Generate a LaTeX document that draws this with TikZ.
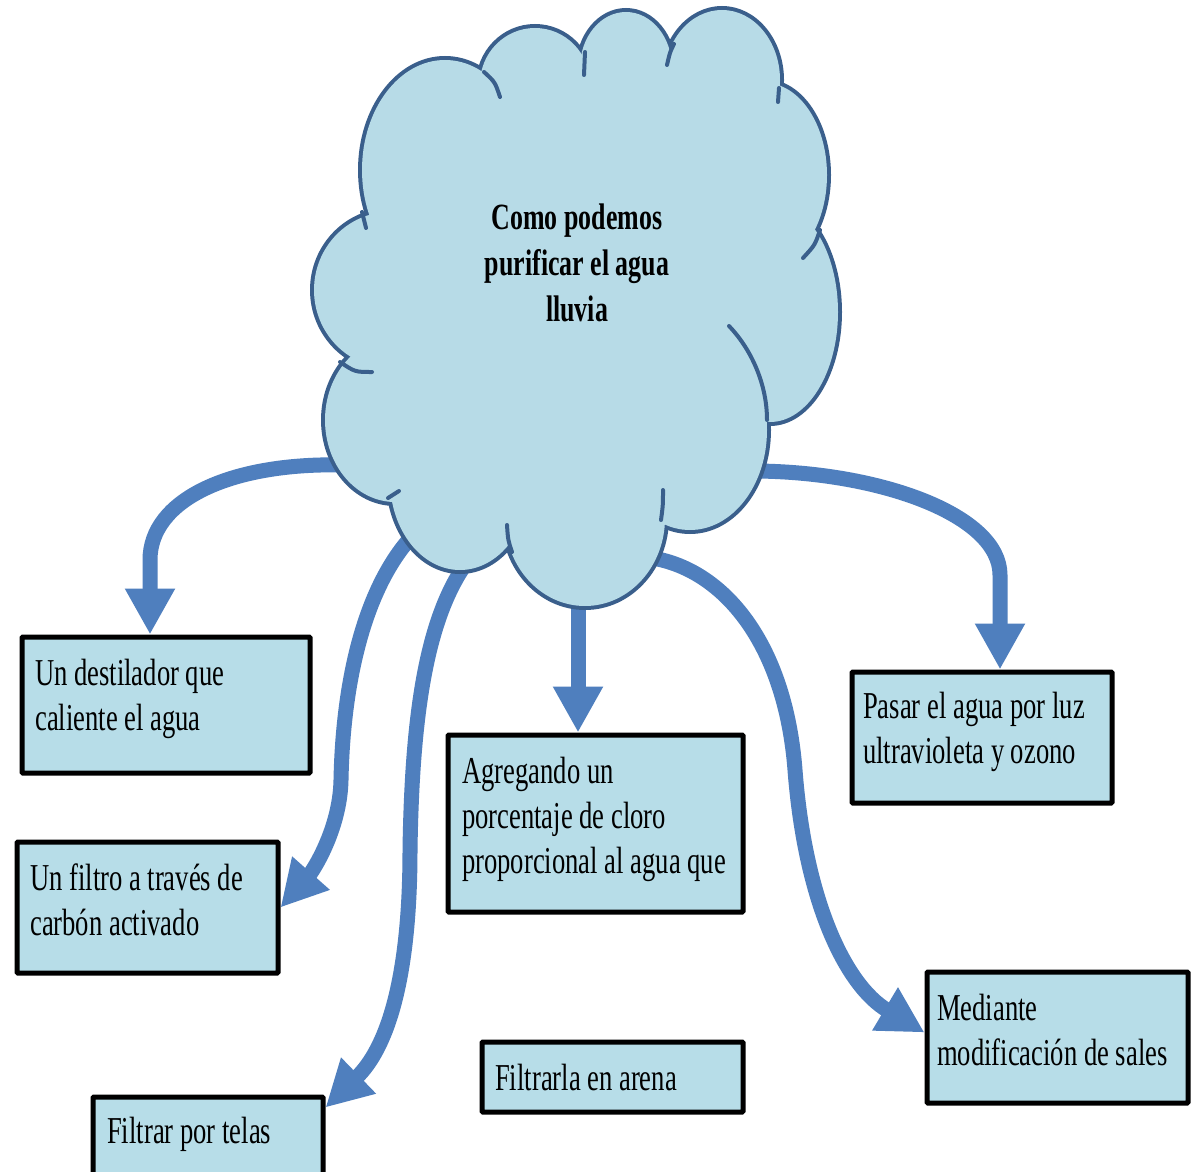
\documentclass[tikz,border=0pt]{standalone}
\usepackage{fontspec}
\newfontfamily\boxfont[FakeStretch=0.7]{Liberation Serif}
\usetikzlibrary{arrows.meta}
\definecolor{boxfill}{HTML}{B7DDE8}
\definecolor{cloudfill}{HTML}{B7DBE7}
\definecolor{cloudline}{HTML}{3A5F8C}
\definecolor{arrowblue}{HTML}{4F7FBE}
\tikzset{
  box/.style={draw=black, line width=5pt, fill=boxfill, anchor=north west, inner sep=0pt, rounded corners=1pt},
  txt/.style={anchor=north west, inner sep=0pt, align=left, text=black, font=\boxfont\fontsize{38}{45}\selectfont},
  titletxt/.style={anchor=north, inner sep=0pt, align=center, text=black, font=\boxfont\bfseries\fontsize{37}{46}\selectfont},
  flow/.style={draw=arrowblue, line width=15pt, -{Triangle[width=47pt,length=46pt]}},
  notchline/.style={draw=cloudline, line width=4pt, line cap=round},
  lobe/.style={draw=cloudline, line width=8pt},
  lobefill/.style={fill=cloudfill}
}
\newcommand{\lobes}[1]{%
  \path[#1] (445,170) ellipse [x radius=83pt, y radius=110pt];
  \path[#1] (535,84) ellipse [x radius=55pt, y radius=56pt];
  \path[#1] (626,68) ellipse [x radius=46pt, y radius=56pt];
  \path[#1] (722,80) ellipse [x radius=58pt, y radius=70pt];
  \path[#1] (765,175) ellipse [x radius=62pt, y radius=92pt];
  \path[#1] (770,312) ellipse [x radius=68pt, y radius=110pt];
  \path[#1] (690,430) ellipse [x radius=77pt, y radius=100pt];
  \path[#1] (585,518) ellipse [x radius=80pt, y radius=88pt];
  \path[#1] (460,480) ellipse [x radius=70pt, y radius=90pt];
  \path[#1] (395,420) ellipse [x radius=70pt, y radius=82pt];
  \path[#1] (390,290) ellipse [x radius=76pt, y radius=78pt];
}
\begin{document}
\begin{tikzpicture}[x=1pt, y=-1pt]
\fill[white] (0,0) rectangle (1194,1172);
\useasboundingbox (0,0) rectangle (1194,1172);

% boxes
\node[box, minimum width=288pt, minimum height=136pt] (dest) at (19.5,634.5) {};
\node[box, minimum width=261pt, minimum height=131pt] (carb) at (14.5,839.5) {};
\node[box, minimum width=230pt, minimum height=98pt] (telas) at (90.5,1094.5) {};
\node[box, minimum width=295pt, minimum height=177pt] (agreg) at (445.5,732.5) {};
\node[box, minimum width=261pt, minimum height=70pt] (arena) at (479.5,1039.5) {};
\node[box, minimum width=260pt, minimum height=131pt] (pasar) at (849.5,669.5) {};
\node[box, minimum width=261pt, minimum height=131pt] (med) at (924.5,969.5) {};

% arrow start points on the cloud
\coordinate (c1) at (345,465);
\coordinate (c2) at (415,533);
\coordinate (c3) at (467,562);
\coordinate (c4) at (578,598);
\coordinate (c5) at (645,557);
\coordinate (c6) at (756,471);

% arrows
\draw[flow] (c1) .. controls (230,462) and (150,500) .. (150,560) -- (dest.north -| 150,0);
\draw[flow] (c2) .. controls (365,585) and (343,680) .. (341,780) .. controls (340,830) and (312,872) .. (carb.east);
\draw[flow] (c3) .. controls (425,620) and (412,720) .. (410,850) .. controls (410,985) and (385,1050) .. ([yshift=-13pt]telas.north east);
\draw[flow] (c4) -- (agreg.north -| 578,0);
\draw[flow] (c5) .. controls (720,565) and (785,640) .. (795,770) .. controls (805,900) and (845,985) .. ([yshift=5pt]med.west);
\draw[flow] (c6) .. controls (880,472) and (1000,515) .. (1000,575) -- (pasar.north -| 1000,0);

% cloud
\lobes{lobe}
\lobes{lobefill}
\fill[cloudfill] (374,217) -- (486,76) -- (582,62) -- (668,64) -- (773,93) -- (808,238)
  -- (761,417) -- (662,518) -- (515,530) -- (398,494) -- (356,357) -- cycle;
\draw[notchline] (362,212) -- (366,228);
\draw[notchline] (484,72) .. controls (495,82) .. (500,97);
\draw[notchline] (585,52) -- (584,75);
\draw[notchline] (674,44) .. controls (670,52) .. (667,65);
\draw[notchline] (779,88) -- (778,102);
\draw[notchline] (820,230) .. controls (815,245) .. (803,258);
\draw[notchline] (729,326) .. controls (752,350) and (767,385) .. (767,420);
\draw[notchline] (661,520) .. controls (663,505) .. (663,490);
\draw[notchline] (512,552) .. controls (508,540) .. (507,525);
\draw[notchline] (388,498) .. controls (394,494) .. (399,491);
\draw[notchline] (340,362) .. controls (355,372) .. (372,372);

\node[titletxt] (cloud) at (577,204) {Como podemos\\purificar el agua\\lluvia};

% texts
\node[txt] (destT) at (35,659) {Un destilador que\\caliente el agua};
\node[txt] (carbT) at (30,864) {Un filtro a través de\\carbón activado};
\node[txt] (telasT) at (107,1117) {Filtrar por telas};
\node[txt] (agregT) at (462,757) {Agregando un\\porcentaje de cloro\\proporcional al agua que};
\node[txt] (arenaT) at (495,1064) {Filtrarla en arena};
\node[txt] (pasarT) at (863,692) {Pasar el agua por luz\\ultravioleta y ozono};
\node[txt] (medT) at (937,994) {Mediante\\modificación de sales};
\end{tikzpicture}
\end{document}
